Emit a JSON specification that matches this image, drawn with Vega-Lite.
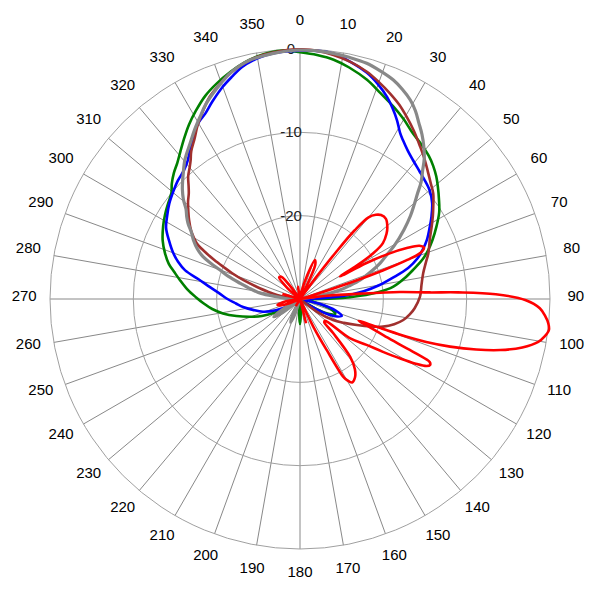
{
  "$schema": "https://vega.github.io/schema/vega-lite/v6.json",
  "width": 600,
  "height": 600,
  "padding": 0,
  "autosize": {"type": "none"},
  "background": "white",
  "config": {"view": {"stroke": null}},
  "datasets": {
    "spokes": [{"a":0},{"a":10},{"a":20},{"a":30},{"a":40},{"a":50},{"a":60},{"a":70},{"a":80},{"a":90},{"a":100},{"a":110},{"a":120},{"a":130},{"a":140},{"a":150},{"a":160},{"a":170},{"a":180},{"a":190},{"a":200},{"a":210},{"a":220},{"a":230},{"a":240},{"a":250},{"a":260},{"a":270},{"a":280},{"a":290},{"a":300},{"a":310},{"a":320},{"a":330},{"a":340},{"a":350}],
    "rings": [{"db":-20,"t":"-20"},{"db":-10,"t":"-10"},{"db":0,"t":"0"}],
    "blue": [{"a":0,"db":-0.2},{"a":4,"db":-0.15},{"a":8,"db":-0.3},{"a":12,"db":-0.9},{"a":16.5,"db":-1.7},{"a":20,"db":-2.6},{"a":23.3,"db":-3.6},{"a":26,"db":-4.6},{"a":28.5,"db":-5.6},{"a":31,"db":-6.7},{"a":33,"db":-7.3},{"a":36,"db":-8.0},{"a":39,"db":-8.5},{"a":43,"db":-9.0},{"a":46,"db":-9.3},{"a":50,"db":-9.7},{"a":54,"db":-10.4},{"a":58,"db":-11.4},{"a":61,"db":-12.2},{"a":65,"db":-13.2},{"a":68,"db":-14.1},{"a":71,"db":-15.1},{"a":74,"db":-16.5},{"a":77,"db":-18.5},{"a":80,"db":-20.3},{"a":83,"db":-22.3},{"a":86,"db":-24.8},{"a":89,"db":-28.5},{"a":92,"db":-30},{"a":100,"db":-30},{"a":104,"db":-27.5},{"a":108,"db":-25.5},{"a":112,"db":-24.6},{"a":116,"db":-25.3},{"a":120,"db":-26.8},{"a":125,"db":-28.8},{"a":130,"db":-30},{"a":235,"db":-30},{"a":240,"db":-28.3},{"a":245,"db":-26.8},{"a":251,"db":-25.3},{"a":257,"db":-24.2},{"a":262,"db":-23.1},{"a":266,"db":-22.3},{"a":270,"db":-21.3},{"a":274,"db":-20.3},{"a":278,"db":-18.9},{"a":281,"db":-17.6},{"a":284,"db":-15.8},{"a":287,"db":-14.7},{"a":290,"db":-13.8},{"a":294,"db":-12.8},{"a":298,"db":-11.8},{"a":302,"db":-11.2},{"a":306,"db":-10.6},{"a":310,"db":-10.1},{"a":314,"db":-9.6},{"a":318,"db":-9.2},{"a":321,"db":-8.6},{"a":324,"db":-7.6},{"a":327,"db":-6.6},{"a":330,"db":-5.6},{"a":333,"db":-5.0},{"a":336,"db":-4.1},{"a":340,"db":-2.9},{"a":343,"db":-2.1},{"a":346,"db":-1.3},{"a":349,"db":-0.8},{"a":352,"db":-0.45},{"a":356,"db":-0.25},{"a":360,"db":-0.2}],
    "green": [{"a":0,"db":-0.4},{"a":4,"db":-0.65},{"a":8,"db":-1.0},{"a":12,"db":-1.6},{"a":17,"db":-2.5},{"a":21,"db":-3.4},{"a":26,"db":-4.35},{"a":30,"db":-5.1},{"a":34,"db":-5.9},{"a":38,"db":-6.4},{"a":42,"db":-6.9},{"a":45,"db":-7.4},{"a":48,"db":-8.0},{"a":51,"db":-8.7},{"a":54,"db":-9.4},{"a":58,"db":-10.3},{"a":62,"db":-11.45},{"a":66,"db":-12.6},{"a":69,"db":-13.5},{"a":72,"db":-14.5},{"a":75.6,"db":-16},{"a":79,"db":-17.3},{"a":82.5,"db":-18.7},{"a":85,"db":-20.5},{"a":88,"db":-24},{"a":91,"db":-28.5},{"a":94,"db":-30},{"a":100,"db":-29.5},{"a":105,"db":-27.3},{"a":109,"db":-25.9},{"a":113,"db":-25.4},{"a":117,"db":-26},{"a":121,"db":-27.5},{"a":126,"db":-29.5},{"a":129,"db":-30},{"a":173,"db":-30},{"a":177,"db":-28.3},{"a":180,"db":-27},{"a":183,"db":-28.3},{"a":187,"db":-30},{"a":232,"db":-30},{"a":237,"db":-28},{"a":242,"db":-26.4},{"a":246,"db":-25},{"a":250.5,"db":-23.6},{"a":255,"db":-22.1},{"a":259.4,"db":-20.6},{"a":263.5,"db":-19.4},{"a":267.5,"db":-18.4},{"a":271,"db":-17.5},{"a":275,"db":-16.4},{"a":279,"db":-15.4},{"a":282,"db":-14.6},{"a":285,"db":-13.7},{"a":288.7,"db":-12.9},{"a":293,"db":-12.1},{"a":298,"db":-11.4},{"a":302,"db":-10.9},{"a":306,"db":-10.45},{"a":309.5,"db":-10.0},{"a":312,"db":-9.3},{"a":315,"db":-8.6},{"a":318,"db":-8.0},{"a":321,"db":-7.2},{"a":324,"db":-6.3},{"a":327.5,"db":-5.2},{"a":331,"db":-4.2},{"a":335,"db":-3.1},{"a":339,"db":-2.25},{"a":343,"db":-1.5},{"a":346.5,"db":-0.9},{"a":350,"db":-0.45},{"a":353,"db":-0.2},{"a":356,"db":-0.1},{"a":360,"db":-0.4}],
    "brown": [{"a":0,"db":-0.05},{"a":4,"db":-0.15},{"a":7.8,"db":-0.44},{"a":12,"db":-0.9},{"a":16.4,"db":-1.57},{"a":20,"db":-2.3},{"a":23.6,"db":-3.06},{"a":27,"db":-3.8},{"a":30.3,"db":-4.65},{"a":34,"db":-5.6},{"a":38.2,"db":-6.7},{"a":42,"db":-7.6},{"a":45.6,"db":-8.45},{"a":48.5,"db":-9.05},{"a":51.6,"db":-9.6},{"a":55.3,"db":-10.55},{"a":58,"db":-11.2},{"a":61.2,"db":-11.97},{"a":65,"db":-12.8},{"a":70.4,"db":-13.65},{"a":74,"db":-14.3},{"a":78.2,"db":-14.9},{"a":83,"db":-15.3},{"a":88.9,"db":-15.6},{"a":94.6,"db":-16.2},{"a":98,"db":-16.7},{"a":101.5,"db":-17.35},{"a":105,"db":-18.3},{"a":108.4,"db":-19.5},{"a":111.5,"db":-21},{"a":114.6,"db":-22.5},{"a":118.5,"db":-24},{"a":122.5,"db":-25.3},{"a":127,"db":-27.5},{"a":132,"db":-30},{"a":268,"db":-30},{"a":274,"db":-29},{"a":280,"db":-27.2},{"a":283,"db":-26},{"a":285,"db":-25},{"a":288.5,"db":-22.8},{"a":290.8,"db":-21.3},{"a":292.8,"db":-20},{"a":294.5,"db":-18.7},{"a":296.1,"db":-17.5},{"a":298,"db":-16.1},{"a":300,"db":-15.3},{"a":302,"db":-14.6},{"a":305.3,"db":-13.7},{"a":308,"db":-13.0},{"a":311,"db":-12.2},{"a":313.5,"db":-11.6},{"a":315.3,"db":-11},{"a":317.6,"db":-10.1},{"a":320,"db":-9.4},{"a":321.8,"db":-8.78},{"a":323.6,"db":-8.0},{"a":326.6,"db":-7.0},{"a":329.5,"db":-5.8},{"a":333,"db":-4.5},{"a":336,"db":-3.4},{"a":339,"db":-2.6},{"a":341.7,"db":-1.9},{"a":345,"db":-1.2},{"a":348.2,"db":-0.7},{"a":351,"db":-0.4},{"a":354.6,"db":-0.19},{"a":357,"db":-0.08},{"a":360,"db":-0.05}],
    "gray": [{"a":0,"db":-0.12},{"a":4,"db":-0.15},{"a":7.7,"db":-0.25},{"a":11.5,"db":-0.4},{"a":15.8,"db":-0.6},{"a":19.5,"db":-1.0},{"a":23.1,"db":-1.44},{"a":26,"db":-2.0},{"a":29,"db":-2.7},{"a":31.5,"db":-3.5},{"a":34,"db":-4.5},{"a":36.5,"db":-5.4},{"a":39,"db":-6.4},{"a":41.5,"db":-7.5},{"a":43.5,"db":-8.6},{"a":46,"db":-9.8},{"a":48,"db":-11},{"a":50.6,"db":-12.3},{"a":53,"db":-13.4},{"a":56.3,"db":-15.0},{"a":60.5,"db":-17},{"a":63,"db":-18.3},{"a":66,"db":-19.5},{"a":69,"db":-20.9},{"a":72.4,"db":-22.4},{"a":75,"db":-23.9},{"a":77.3,"db":-25.1},{"a":80,"db":-27.5},{"a":84,"db":-30},{"a":195,"db":-30},{"a":199,"db":-28},{"a":202,"db":-27},{"a":205,"db":-28},{"a":209,"db":-30},{"a":228,"db":-30},{"a":232,"db":-27.5},{"a":236,"db":-26.2},{"a":240,"db":-28},{"a":244,"db":-30},{"a":265,"db":-30},{"a":270,"db":-28.7},{"a":275.6,"db":-27.2},{"a":278,"db":-25.3},{"a":281.5,"db":-24},{"a":284.7,"db":-22.6},{"a":287.5,"db":-21},{"a":289.9,"db":-19.8},{"a":291.8,"db":-18.5},{"a":293.6,"db":-17.3},{"a":296,"db":-16.3},{"a":298.9,"db":-15.4},{"a":301.6,"db":-14.7},{"a":304,"db":-13.8},{"a":306,"db":-13.2},{"a":308.2,"db":-12.6},{"a":310.5,"db":-11.6},{"a":313,"db":-10.7},{"a":315.4,"db":-9.95},{"a":317.1,"db":-9.42},{"a":320.5,"db":-8.3},{"a":324.8,"db":-7.13},{"a":328,"db":-6.1},{"a":331.3,"db":-5.05},{"a":334,"db":-4.1},{"a":337.1,"db":-3.2},{"a":340,"db":-2.4},{"a":342.8,"db":-1.64},{"a":345.5,"db":-1.1},{"a":348.2,"db":-0.7},{"a":351,"db":-0.5},{"a":353.8,"db":-0.35},{"a":357,"db":-0.2},{"a":360,"db":-0.12}],
    "red": [{"a":0,"db":-29},{"a":5,"db":-30},{"a":12,"db":-29},{"a":17,"db":-27},{"a":21,"db":-25},{"a":24,"db":-25.5},{"a":27,"db":-28.5},{"a":30,"db":-30},{"a":35,"db":-30},{"a":36.5,"db":-27},{"a":37.5,"db":-23},{"a":38.5,"db":-19.5},{"a":40,"db":-17.2},{"a":42,"db":-16.4},{"a":44,"db":-16},{"a":47,"db":-15.9},{"a":50.4,"db":-16.4},{"a":53,"db":-17},{"a":56,"db":-18},{"a":58,"db":-19.6},{"a":59.5,"db":-22},{"a":60.5,"db":-24.5},{"a":61.5,"db":-21},{"a":63,"db":-18},{"a":64.5,"db":-15.8},{"a":66,"db":-14.3},{"a":67.5,"db":-13.9},{"a":69,"db":-14.5},{"a":70,"db":-16.3},{"a":71,"db":-19.5},{"a":72,"db":-23.5},{"a":73.5,"db":-28.5},{"a":75,"db":-30},{"a":80,"db":-30},{"a":83,"db":-27},{"a":85,"db":-22.5},{"a":86,"db":-18},{"a":87.1,"db":-14.4},{"a":87.6,"db":-11},{"a":88.6,"db":-6.5},{"a":90.3,"db":-2.9},{"a":92.2,"db":-1.2},{"a":94,"db":-0.5},{"a":95.6,"db":-0.06},{"a":97.1,"db":0.1},{"a":98.7,"db":-0.3},{"a":100.2,"db":-0.95},{"a":102.3,"db":-2.7},{"a":104.3,"db":-5.2},{"a":106,"db":-8},{"a":107.6,"db":-11.1},{"a":108.8,"db":-14},{"a":109.5,"db":-16.5},{"a":109.9,"db":-19.5},{"a":110.4,"db":-22.5},{"a":112,"db":-21},{"a":113.5,"db":-19},{"a":114.5,"db":-17},{"a":115.2,"db":-14.5},{"a":115.9,"db":-12.7},{"a":116.9,"db":-12.5},{"a":117.9,"db":-12.8},{"a":119.3,"db":-14.2},{"a":120.7,"db":-16},{"a":122.5,"db":-18.2},{"a":124.6,"db":-20.3},{"a":128.2,"db":-22.4},{"a":131,"db":-26},{"a":133.5,"db":-26},{"a":135.8,"db":-24.3},{"a":139.1,"db":-20.8},{"a":142,"db":-19.3},{"a":145,"db":-18.5},{"a":148,"db":-18.2},{"a":150,"db":-18.8},{"a":150.9,"db":-19.3},{"a":152.4,"db":-23.1},{"a":154.3,"db":-26.3},{"a":156,"db":-30},{"a":163,"db":-30},{"a":166,"db":-27},{"a":169,"db":-30},{"a":200,"db":-30},{"a":210,"db":-29},{"a":220,"db":-30},{"a":245,"db":-30},{"a":250,"db":-28},{"a":255,"db":-27.2},{"a":260,"db":-28},{"a":265,"db":-30},{"a":280,"db":-30},{"a":286,"db":-27.8},{"a":291,"db":-30},{"a":305,"db":-30},{"a":311,"db":-28},{"a":316,"db":-26.4},{"a":320,"db":-26.5},{"a":324,"db":-29},{"a":328,"db":-30},{"a":345,"db":-30},{"a":350,"db":-28.5},{"a":355,"db":-29.5},{"a":360,"db":-29}]
  },
  "layer": [
    {
      "data": {"name": "spokes"},
      "transform": [
        {"calculate": "0", "as": "o"},
        {"calculate": "30*sin(datum.a*PI/180)", "as": "ex"},
        {"calculate": "30*cos(datum.a*PI/180)", "as": "ey"}
      ],
      "mark": {"type": "rule", "stroke": "#6a6a6a", "strokeWidth": 0.8},
      "encoding": {
        "x": {"field": "o", "type": "quantitative", "scale": {"domain": [-36, 36]}, "axis": null},
        "y": {"field": "o", "type": "quantitative", "scale": {"domain": [-36.12, 35.88]}, "axis": null},
        "x2": {"field": "ex"},
        "y2": {"field": "ey"}
      }
    },
    {
      "data": {"name": "rings"},
      "transform": [{"calculate": "0", "as": "o"}, {"calculate": "datum.db+30", "as": "r"}],
      "mark": {"type": "point", "shape": "circle", "filled": false, "stroke": "#a0a0a0", "strokeWidth": 1, "opacity": 1},
      "encoding": {
        "x": {"field": "o", "type": "quantitative", "scale": {"domain": [-36, 36]}, "axis": null},
        "y": {"field": "o", "type": "quantitative", "scale": {"domain": [-36.12, 35.88]}, "axis": null},
        "size": {"field": "r", "type": "quantitative", "scale": {"type": "pow", "exponent": 2, "domain": [0, 36], "range": [0, 360000]}, "legend": null}
      }
    },
    {
      "data": {"name": "spokes"},
      "transform": [
        {"calculate": "33.1*sin(datum.a*PI/180)", "as": "lx"},
        {"calculate": "33.1*cos(datum.a*PI/180)", "as": "ly"}
      ],
      "mark": {"type": "text", "font": "Liberation Sans", "fontSize": 15, "fill": "#000000", "align": "center", "baseline": "middle", "dy": -3},
      "encoding": {
        "x": {"field": "lx", "type": "quantitative", "scale": {"domain": [-36, 36]}, "axis": null},
        "y": {"field": "ly", "type": "quantitative", "scale": {"domain": [-36.12, 35.88]}, "axis": null},
        "text": {"field": "a", "type": "nominal"}
      }
    },
    {
      "data": {"name": "rings"},
      "transform": [{"calculate": "0", "as": "o"}, {"calculate": "datum.db+30", "as": "r"}],
      "mark": {"type": "text", "font": "Liberation Sans", "fontSize": 15, "fill": "#222222", "align": "center", "baseline": "middle", "dx": -9},
      "encoding": {
        "x": {"field": "o", "type": "quantitative", "scale": {"domain": [-36, 36]}, "axis": null},
        "y": {"field": "r", "type": "quantitative", "scale": {"domain": [-36.12, 35.88]}, "axis": null},
        "text": {"field": "t", "type": "nominal"}
      }
    },
    {
      "data": {"name": "green"},
      "transform": [
        {"calculate": "max(datum.db+30,0)", "as": "rr"},
        {"calculate": "datum.rr*sin(datum.a*PI/180)", "as": "px"},
        {"calculate": "datum.rr*cos(datum.a*PI/180)", "as": "py"}
      ],
      "mark": {"type": "line", "stroke": "#008000", "strokeWidth": 2.6, "interpolate": "catmull-rom"},
      "encoding": {
        "x": {"field": "px", "type": "quantitative", "scale": {"domain": [-36, 36]}, "axis": null},
        "y": {"field": "py", "type": "quantitative", "scale": {"domain": [-36.12, 35.88]}, "axis": null},
        "order": {"field": "a", "type": "quantitative"}
      }
    },
    {
      "data": {"name": "blue"},
      "transform": [
        {"calculate": "max(datum.db+30,0)", "as": "rr"},
        {"calculate": "datum.rr*sin(datum.a*PI/180)", "as": "px"},
        {"calculate": "datum.rr*cos(datum.a*PI/180)", "as": "py"}
      ],
      "mark": {"type": "line", "stroke": "#0000FF", "strokeWidth": 2.6, "interpolate": "catmull-rom"},
      "encoding": {
        "x": {"field": "px", "type": "quantitative", "scale": {"domain": [-36, 36]}, "axis": null},
        "y": {"field": "py", "type": "quantitative", "scale": {"domain": [-36.12, 35.88]}, "axis": null},
        "order": {"field": "a", "type": "quantitative"}
      }
    },
    {
      "data": {"name": "brown"},
      "transform": [
        {"calculate": "max(datum.db+30,0)", "as": "rr"},
        {"calculate": "datum.rr*sin(datum.a*PI/180)", "as": "px"},
        {"calculate": "datum.rr*cos(datum.a*PI/180)", "as": "py"}
      ],
      "mark": {"type": "line", "stroke": "#A0302E", "strokeWidth": 2.6, "interpolate": "catmull-rom"},
      "encoding": {
        "x": {"field": "px", "type": "quantitative", "scale": {"domain": [-36, 36]}, "axis": null},
        "y": {"field": "py", "type": "quantitative", "scale": {"domain": [-36.12, 35.88]}, "axis": null},
        "order": {"field": "a", "type": "quantitative"}
      }
    },
    {
      "data": {"name": "gray"},
      "transform": [
        {"calculate": "max(datum.db+30,0)", "as": "rr"},
        {"calculate": "datum.rr*sin(datum.a*PI/180)", "as": "px"},
        {"calculate": "datum.rr*cos(datum.a*PI/180)", "as": "py"}
      ],
      "mark": {"type": "line", "stroke": "#888888", "strokeWidth": 3.2, "interpolate": "catmull-rom"},
      "encoding": {
        "x": {"field": "px", "type": "quantitative", "scale": {"domain": [-36, 36]}, "axis": null},
        "y": {"field": "py", "type": "quantitative", "scale": {"domain": [-36.12, 35.88]}, "axis": null},
        "order": {"field": "a", "type": "quantitative"}
      }
    },
    {
      "data": {"name": "red"},
      "transform": [
        {"calculate": "max(datum.db+30,0)", "as": "rr"},
        {"calculate": "datum.rr*sin(datum.a*PI/180)", "as": "px"},
        {"calculate": "datum.rr*cos(datum.a*PI/180)", "as": "py"}
      ],
      "mark": {"type": "line", "stroke": "#FF0000", "strokeWidth": 2.6, "interpolate": "catmull-rom"},
      "encoding": {
        "x": {"field": "px", "type": "quantitative", "scale": {"domain": [-36, 36]}, "axis": null},
        "y": {"field": "py", "type": "quantitative", "scale": {"domain": [-36.12, 35.88]}, "axis": null},
        "order": {"field": "a", "type": "quantitative"}
      }
    }
  ]
}
